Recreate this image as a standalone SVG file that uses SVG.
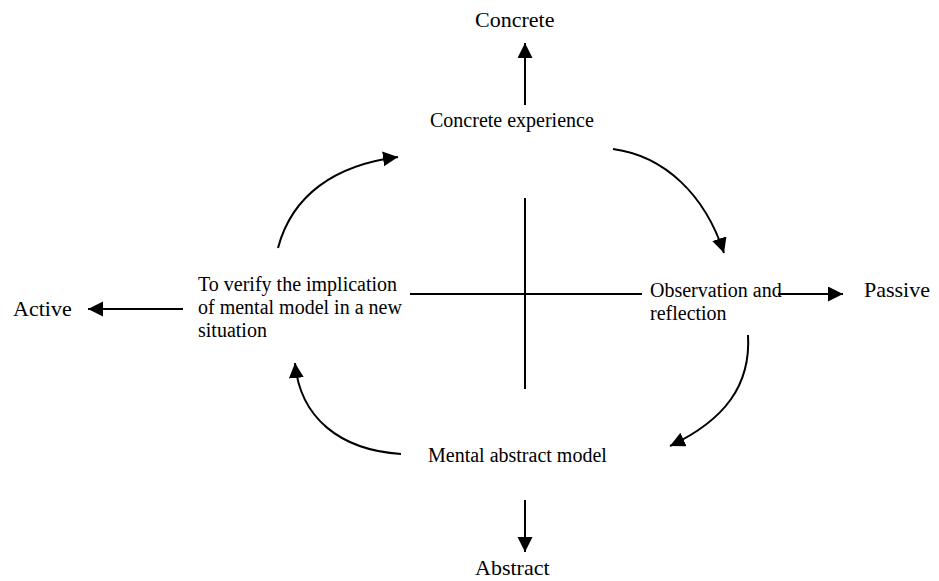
<svg xmlns="http://www.w3.org/2000/svg" width="939" height="581" viewBox="0 0 939 581">
  <defs>
    <marker id="arrow" markerUnits="userSpaceOnUse" markerWidth="16" markerHeight="16" refX="15" refY="7.5" orient="auto">
      <path d="M0,0 L15,7.5 L0,15 Z" fill="#000"/>
    </marker>
    <style>
      text { font-family: "Liberation Serif", "Times New Roman", serif; fill: #000; }
      .inner { font-size: 20px; }
      .outer { font-size: 22px; }
      .line { stroke: #000; stroke-width: 2; fill: none; }
      .arr { stroke: #000; stroke-width: 2; fill: none; marker-end: url(#arrow); }
    </style>
  </defs>
  <rect width="939" height="581" fill="#fff"/>

  <!-- axes and cycle arrows -->
  <g id="connectors">
    <line class="line" x1="525" y1="198" x2="525" y2="389"/>
    <line class="line" x1="410" y1="294" x2="642" y2="294"/>
    <line class="arr" x1="525" y1="105" x2="525" y2="43"/>
    <line class="arr" x1="525" y1="500" x2="525" y2="552"/>
    <line class="arr" x1="183" y1="309" x2="88" y2="309"/>
    <line class="arr" x1="778" y1="294" x2="843" y2="294"/>
    <path class="arr" d="M613,149 C665,156 705,195 724,253"/>
    <path class="arr" d="M748,335 C751,385 725,420 670,446"/>
    <path class="arr" d="M401,454 C340,450 300,418 295,363"/>
    <path class="arr" d="M278,248 C292,195 335,165 398,157"/>
  </g>

  <g id="concrete"><text class="outer" x="475" y="27">Concrete</text></g>
  <g id="abstract"><text class="outer" x="475" y="575">Abstract</text></g>
  <g id="active"><text class="outer" x="13" y="316">Active</text></g>
  <g id="passive"><text class="outer" x="864" y="297">Passive</text></g>

  <g id="concrete-experience"><text class="inner" x="430" y="127">Concrete experience</text></g>
  <g id="observation"><text class="inner" x="650" y="297">Observation and<tspan x="650" y="320">reflection</tspan></text></g>
  <g id="abstract-model"><text class="inner" x="428" y="462">Mental abstract model</text></g>
  <g id="verify">
    <text class="inner" x="198" y="291">To verify the implication<tspan x="198" y="314">of mental model in a new</tspan><tspan x="198" y="337">situation</tspan></text>
  </g>
</svg>
